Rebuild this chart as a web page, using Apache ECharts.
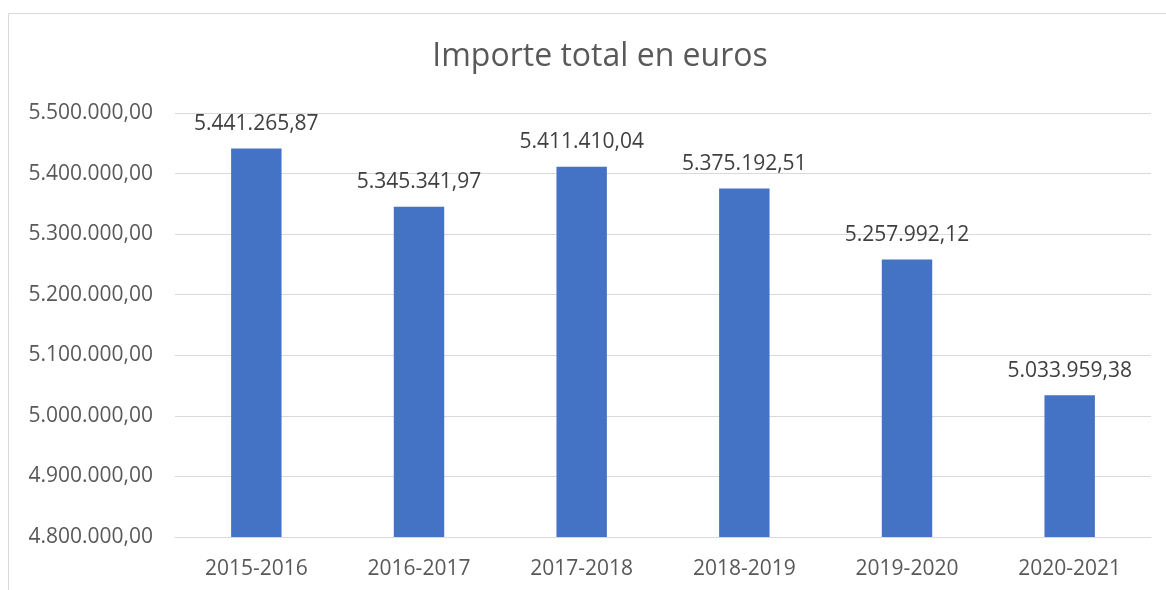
<!DOCTYPE html>
<html><head><meta charset="utf-8">
<script src="https://cdn.jsdelivr.net/npm/echarts@6/dist/echarts.min.js"></script>
<style>html,body{margin:0;padding:0;background:#fff}#c{width:1166px;height:590px}</style>
</head><body><div id="c"></div>
<script>
const categories = ['2015-2016','2016-2017','2017-2018','2018-2019','2019-2020','2020-2021'];
const values = [5441265.87, 5345341.97, 5411410.04, 5375192.51, 5257992.12, 5033959.38];
const titleText = 'Importe total en euros';

function fmt(v, d) {
  const parts = v.toFixed(d).split('.');
  const intPart = parts[0].replace(/\B(?=(\d{3})+(?!\d))/g, '.');
  return intPart + ',' + parts[1];
}
const FONT = '"Open Sans", sans-serif';
const chart = echarts.init(document.getElementById('c'), null, {renderer: 'canvas'});
chart.setOption({
  animation: false,
  backgroundColor: '#fff',
  title: {
    text: titleText, left: 595, top: 36, textAlign: 'center',
    textStyle: {fontFamily: FONT, fontSize: 32, fontWeight: 'normal', color: '#595959'}
  },
  graphic: [{
    type: 'rect', shape: {x: 8.5, y: 13.5, width: 1300, height: 700},
    style: {fill: 'none', stroke: '#d9d9d9', lineWidth: 1}, silent: true
  }],
  grid: {left: 175, right: 15, top: 113, bottom: 53, containLabel: false},
  xAxis: {
    type: 'category', data: categories,
    axisLine: {lineStyle: {color: '#d9d9d9', width: 1}},
    axisTick: {show: false},
    axisLabel: {fontFamily: FONT, fontSize: 21, color: '#595959', margin: 22}
  },
  yAxis: {
    type: 'value', min: 4800000, max: 5500000, interval: 100000,
    axisLine: {show: false}, axisTick: {show: false},
    splitLine: {lineStyle: {color: '#d9d9d9', width: 1}},
    axisLabel: {fontFamily: FONT, fontSize: 21, color: '#595959', margin: 22,
      formatter: v => fmt(v, 2)}
  },
  series: [{
    type: 'bar', data: values, barWidth: '31%',
    itemStyle: {color: '#4472C4'},
    label: {show: true, position: 'top', distance: 14, fontFamily: FONT, fontSize: 21,
      color: '#404040', formatter: p => fmt(p.value, 2)}
  }]
});
</script></body></html>
